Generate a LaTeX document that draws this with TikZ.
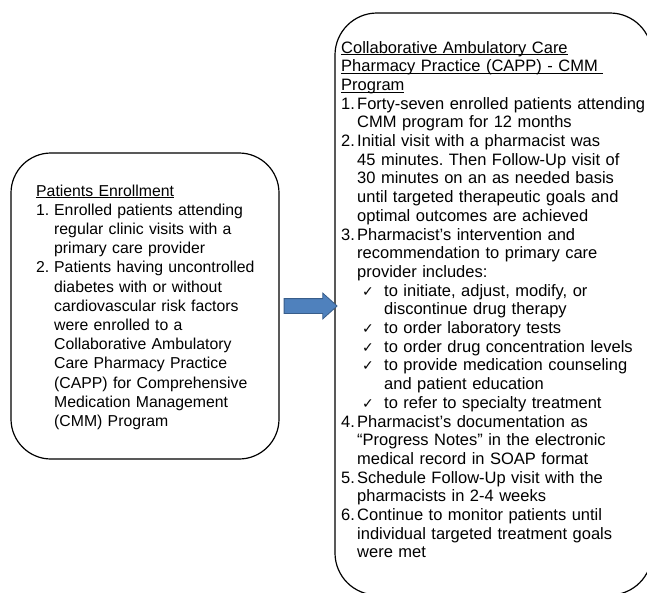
\documentclass[tikz,border=0pt]{standalone}
\usepackage{fontspec}
\setmainfont{Liberation Sans}
\newfontfamily\chkfont{DejaVu Sans}
\newsavebox{\hulbox}
\newcommand\hul[1]{\leavevmode\sbox{\hulbox}{#1}\rlap{\rule[-2.2pt]{\wd\hulbox}{0.8pt}}\usebox{\hulbox}}
\usetikzlibrary{shapes.arrows}
\definecolor{arrfill}{HTML}{4F81BD}
\definecolor{arrline}{HTML}{385D8A}
\frenchspacing
\newcommand\numL[1]{\makebox[18pt][l]{#1}}
\newcommand\contL{\hspace*{18pt}}
\newcommand\numR[1]{\makebox[16pt][l]{#1}}
\newcommand\contR{\hspace*{16pt}}
\newcommand\chkR{\hspace*{21pt}\makebox[22pt][l]{{\chkfont\fontsize{14}{14}\selectfont ✓}}}
\newcommand\contC{\hspace*{43pt}}
\tikzset{
  box/.style={draw=black, line width=1.2pt, rounded corners=#1, inner sep=0pt},
  txt/.style={anchor=base west, inner sep=0pt, align=left, text width=#1},
}
\begin{document}
\begin{tikzpicture}[x=1pt, y=-1pt]
\useasboundingbox (0,0) rectangle (647,592);
\clip (0,0) rectangle (647,592);
\node[box=40pt, minimum width=268pt, minimum height=306pt] (enroll) at (145,306) {};
\node[box=42pt, minimum width=317pt, minimum height=582pt] (capp) at (493.5,304) {};
\node[single arrow, draw=arrline, fill=arrfill, line width=0.8pt,
      minimum height=53pt, inner xsep=0pt, inner ysep=7pt,
      single arrow head extend=5.5pt, single arrow tip angle=84] (arr) at (306.5,306) {};
\node[txt=250pt, font=\fontsize{15.8}{19.2}\selectfont] (enrolltext) at (36,196) {%
\hul{Patients Enrollment}\\
\numL{1.}Enrolled patients attending\\
\contL regular clinic visits with a\\
\contL primary care provider\\
\numL{2.}Patients having uncontrolled\\
\contL diabetes with or without\\
\contL cardiovascular risk factors\\
\contL were enrolled to a\\
\contL Collaborative Ambulatory\\
\contL Care Pharmacy Practice\\
\contL (CAPP) for Comprehensive\\
\contL Medication Management\\
\contL (CMM) Program};
\node[txt=310pt, font=\fontsize{16.5}{18.7}\selectfont] (capptext) at (341,53) {%
\hul{Collaborative Ambulatory Care}\\
\hul{Pharmacy Practice (CAPP) - CMM\ }\\
\hul{Program}\\
\numR{1.}Forty-seven enrolled patients attending\\
\contR CMM program for 12 months\\
\numR{2.}Initial visit with a pharmacist was\\
\contR 45 minutes. Then Follow-Up visit of\\
\contR 30 minutes on an as needed basis\\
\contR until targeted therapeutic goals and\\
\contR optimal outcomes are achieved\\
\numR{3.}Pharmacist’s intervention and\\
\contR recommendation to primary care\\
\contR provider includes:\\
\chkR to initiate, adjust, modify, or\\
\contC discontinue drug therapy\\
\chkR to order laboratory tests\\
\chkR to order drug concentration levels\\
\chkR to provide medication counseling\\
\contC and patient education\\
\chkR to refer to specialty treatment\\
\numR{4.}Pharmacist’s documentation as\\
\contR “Progress Notes” in the electronic\\
\contR medical record in SOAP format\\
\numR{5.}Schedule Follow-Up visit with the\\
\contR pharmacists in 2-4 weeks\\
\numR{6.}Continue to monitor patients until\\
\contR individual targeted treatment goals\\
\contR were met};
\end{tikzpicture}
\end{document}
